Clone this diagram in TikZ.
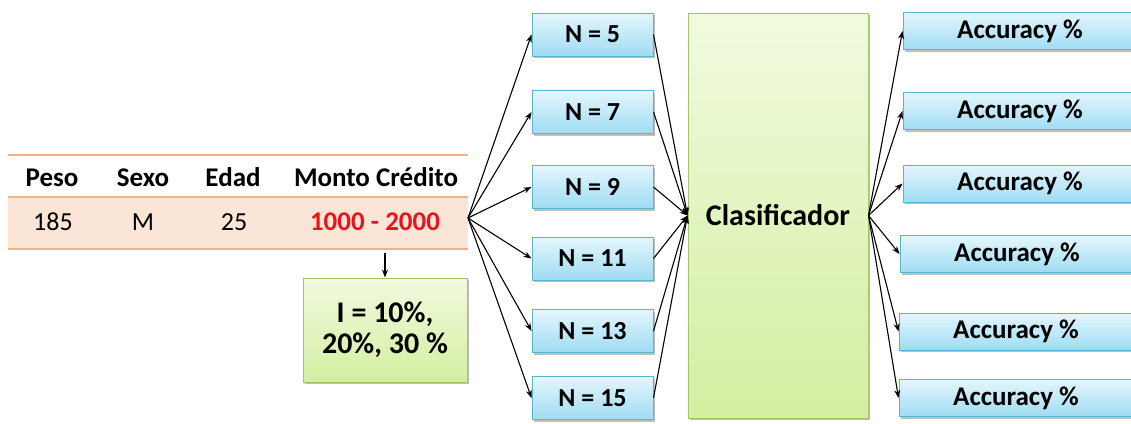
\documentclass[tikz,border=0pt]{standalone}
\usepackage{fontspec}
\setmainfont{Carlito}
\usetikzlibrary{arrows.meta,shadows}
\definecolor{bluebd}{HTML}{5AB4CF}
\definecolor{bluetop}{HTML}{E4F6FD}
\definecolor{bluebot}{HTML}{9FDCF3}
\definecolor{greenbd}{HTML}{A3C46A}
\definecolor{greentop}{HTML}{F1FADF}
\definecolor{greenbot}{HTML}{D3EFA0}
\definecolor{orline}{HTML}{F4B183}
\definecolor{peach}{HTML}{FBE5D6}
\definecolor{redtxt}{HTML}{E8141B}
\begin{document}
\begin{tikzpicture}[x=1pt,y=-1pt,
  shad/.style={drop shadow={shadow xshift=1.5pt,shadow yshift=-2pt,opacity=0.25,fill=black}},
  nbox/.style={draw=bluebd,line width=1pt,top color=bluetop,bottom color=bluebot,shad,
    minimum width=121pt,minimum height=43pt,inner sep=0pt,font=\fontsize{26}{30}\selectfont\bfseries},
  abox/.style={draw=bluebd,line width=1pt,top color=bluetop,bottom color=bluebot,shad,
    minimum width=234pt,minimum height=37pt,inner sep=0pt,font=\fontsize{27}{30}\selectfont\bfseries},
  gbox/.style={draw=greenbd,line width=1pt,top color=greentop,bottom color=greenbot,shad,inner sep=0pt},
  hd/.style={anchor=base,inner sep=0pt,font=\fontsize{27}{30}\selectfont\bfseries},
  rw/.style={anchor=base,inner sep=0pt,font=\fontsize{26}{30}\selectfont},
  arr/.style={-{Stealth[length=8pt,width=6pt]},line width=1.1pt,black},
  tline/.style={orline,line width=1.5pt}]
\useasboundingbox (0,0) rectangle (1131,423);
% table
\fill[peach] (8,197) rectangle (468,249);
\draw[tline] (8,155) -- (468,155);
\draw[tline] (8,197) -- (468,197);
\draw[tline] (8,249) -- (468,249);
\node[hd] (hpeso) at (52,186) {Peso};
\node[hd] (hsexo) at (143,186) {Sexo};
\node[hd] (hedad) at (233,186) {Edad};
\node[hd] (hmonto) at (376,186) {Monto Crédito};
\node[rw] (vpeso) at (53,230) {185};
\node[rw] (vsexo) at (143,230) {M};
\node[rw] (vedad) at (234,230) {25};
\node[hd,text=redtxt] (vmonto) at (375,230) {1000 - 2000};
% I box
\node[gbox,minimum width=164pt,minimum height=104pt,align=center,
  font=\fontsize{30}{31}\selectfont\bfseries] (ibox) at (385,330) {I = 10\%,\\20\%, 30 \%};
\coordinate (tbot) at (385,253);
\draw[arr] (tbot) -- (ibox.north);
% N boxes
\node[nbox] (n5) at (592.5,34.5) {N = 5};
\node[nbox] (n7) at (592.5,112) {N = 7};
\node[nbox] (n9) at (592.5,187) {N = 9};
\node[nbox] (n11) at (592.5,258.5) {N = 11};
\node[nbox] (n13) at (592.5,331) {N = 13};
\node[nbox] (n15) at (592.5,398) {N = 15};
% classifier
\node[gbox,minimum width=180pt,minimum height=405pt,
  font=\fontsize{30}{34}\selectfont\bfseries] (clf) at (778,215.5) {Clasificador};
% accuracy boxes
\node[abox] (a1) at (1020,31) {Accuracy \%};
\node[abox] (a2) at (1020,111) {Accuracy \%};
\node[abox] (a3) at (1020,183.5) {Accuracy \%};
\node[abox] (a4) at (1017,254) {Accuracy \%};
\node[abox] (a5) at (1016,331.5) {Accuracy \%};
\node[abox] (a6) at (1016,398) {Accuracy \%};
% connectors
\coordinate (src) at (468,218);
\foreach \n in {n5,n7,n9,n11,n13,n15}{
  \draw[arr] (src) -- (\n.west);
  \draw[arr] (\n.east) -- (clf.west);
}
\foreach \a in {a1,a2,a3,a4,a5,a6}{
  \draw[arr] (clf.east) -- (\a.west);
}
\end{tikzpicture}
\end{document}
